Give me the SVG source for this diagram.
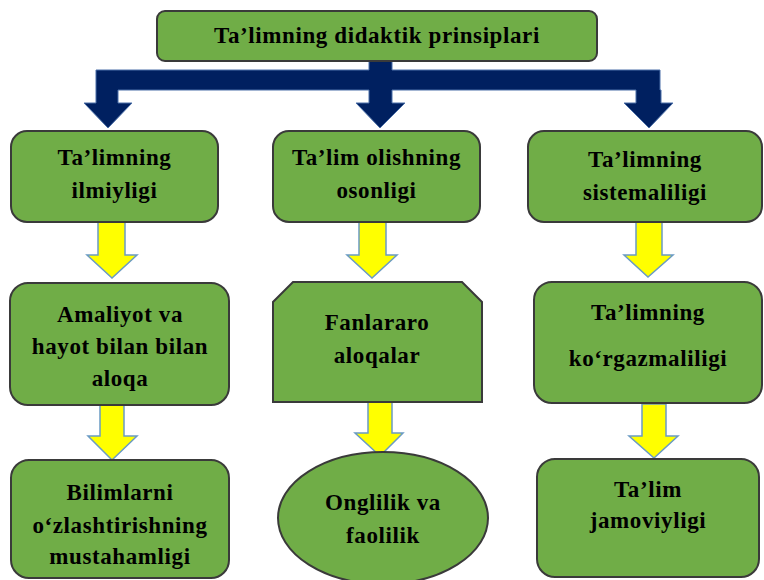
<svg xmlns="http://www.w3.org/2000/svg" width="764" height="580" viewBox="0 0 764 580">
<style>
.box{fill:#70AD47;stroke:#3A3A3A;stroke-width:2}
.t{font-family:"Liberation Serif","Times New Roman",serif;font-weight:bold;font-size:23px;letter-spacing:0.6px;fill:#000;text-anchor:middle}
.y{fill:#FFFF00;stroke:#6A9BC3;stroke-width:1.5;stroke-linejoin:miter}
.n{fill:#002060;stroke:#4A6FA8;stroke-width:1}
</style>
<rect width="764" height="580" fill="#fff"/>
<g id="connectors">
  <path class="n" d="M369,61 H392 V70 H660 V90 H661 V103 H673 L649,128 L624,103 H636 V90 H392 V103 H405 L380,128 L356,103 H369 V90 H118 V103 H132 L108,128 L84,103 H96 V70 H369 Z"/>
  <path class="y" d="M98,222 H125 V255 H137 L112,278 L87,255 H98 Z"/>
  <path class="y" d="M359,222 H386 V255 H397 L372,278 L347,255 H359 Z"/>
  <path class="y" d="M636,222 H662 V255 H673 L648,277 L624,255 H636 Z"/>
  <path class="y" d="M100,404 H124 V436 H137 L112,460 L88,436 H100 Z"/>
  <path class="y" d="M368,402 H392 V433 H403 L380,456 L355,433 H368 Z"/>
  <path class="y" d="M642,404 H666 V436 H678 L654,458 L629,436 H642 Z"/>
</g>
<g id="top">
  <rect class="box" x="157" y="11" width="440" height="50" rx="8"/>
  <text class="t" x="377" y="43">Ta’limning didaktik prinsiplari</text>
</g>
<g id="n1">
  <rect class="box" x="11" y="131" width="207" height="91" rx="16"/>
  <text class="t" x="114.5" y="165">Ta’limning</text>
  <text class="t" x="114.5" y="198">ilmiyligi</text>
</g>
<g id="n2">
  <rect class="box" x="273" y="131" width="207" height="91" rx="16"/>
  <text class="t" x="376.5" y="165">Ta’lim olishning</text>
  <text class="t" x="376.5" y="198">osonligi</text>
</g>
<g id="n3">
  <rect class="box" x="528" y="131" width="234" height="91" rx="16"/>
  <text class="t" x="645" y="167">Ta’limning</text>
  <text class="t" x="645" y="200">sistemaliligi</text>
</g>
<g id="n4">
  <rect class="box" x="10" y="283" width="219" height="122" rx="18"/>
  <text class="t" x="120" y="322">Amaliyot va</text>
  <text class="t" x="120" y="354">hayot bilan bilan</text>
  <text class="t" x="120" y="386">aloqa</text>
</g>
<g id="n5">
  <path class="box" d="M293,282 H462 L482,302 V402 H273 V302 Z"/>
  <text class="t" x="377" y="330">Fanlararo</text>
  <text class="t" x="377" y="363">aloqalar</text>
</g>
<g id="n6">
  <rect class="box" x="534" y="282" width="228" height="121" rx="18"/>
  <text class="t" x="648" y="320">Ta’limning</text>
  <text class="t" x="648" y="366">ko‘rgazmaliligi</text>
</g>
<g id="n7">
  <rect class="box" x="11" y="460" width="218" height="118" rx="18"/>
  <text class="t" x="120" y="500">Bilimlarni</text>
  <text class="t" x="120" y="533">o‘zlashtirishning</text>
  <text class="t" x="120" y="564">mustahamligi</text>
</g>
<g id="n8">
  <ellipse class="box" cx="383" cy="518" rx="105" ry="66"/>
  <text class="t" x="383" y="510">Onglilik va</text>
  <text class="t" x="383" y="543">faolilik</text>
</g>
<g id="n9">
  <rect class="box" x="537" y="459" width="222" height="118" rx="18"/>
  <text class="t" x="648" y="497">Ta’lim</text>
  <text class="t" x="648" y="528">jamoviyligi</text>
</g>
</svg>
